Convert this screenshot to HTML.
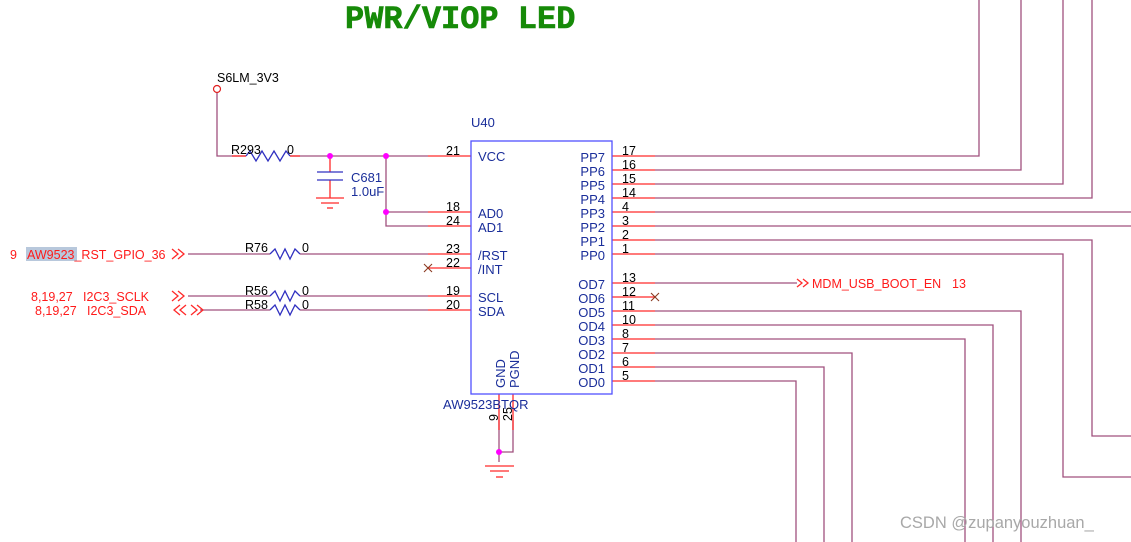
<!DOCTYPE html>
<html><head><meta charset="utf-8"><style>
html,body{margin:0;padding:0;background:#fff;}
svg{display:block;font-family:"Liberation Sans",sans-serif;}
</style></head><body>
<svg width="1131" height="542" viewBox="0 0 1131 542" xmlns="http://www.w3.org/2000/svg">
<text x="345" y="28" font-family="Liberation Mono,monospace" font-weight="bold" font-size="32" fill="#168a08" stroke="#168a08" stroke-width="0.6">PWR/VIOP LED</text>

<g stroke="#a0507e" stroke-width="1.3" fill="none">
<polyline points="217,93 217,156 246,156"/>
<line x1="290" y1="156" x2="428" y2="156"/>
<polyline points="386,156 386,226 428,226"/>
<line x1="386" y1="212" x2="428" y2="212"/>
<line x1="188" y1="254" x2="270" y2="254"/>
<line x1="300" y1="254" x2="428" y2="254"/>
<line x1="188" y1="296" x2="270" y2="296"/>
<line x1="300" y1="296" x2="428" y2="296"/>
<line x1="200" y1="310" x2="270" y2="310"/>
<line x1="300" y1="310" x2="428" y2="310"/>
<polyline points="655,156 979,156 979,0"/>
<polyline points="655,170 1021,170 1021,0"/>
<polyline points="655,184 1063,184 1063,0"/>
<polyline points="655,198 1092,198 1092,0"/>
<line x1="655" y1="212" x2="1131" y2="212"/>
<line x1="655" y1="226" x2="1131" y2="226"/>
<polyline points="655,240 1092,240 1092,436 1131,436"/>
<polyline points="655,254 1063,254 1063,477 1131,477"/>
<line x1="655" y1="283" x2="797" y2="283"/>
<polyline points="655,311 1021,311 1021,542"/>
<polyline points="655,325 993,325 993,542"/>
<polyline points="655,339 965,339 965,542"/>
<polyline points="655,353 852,353 852,542"/>
<polyline points="655,367 824,367 824,542"/>
<polyline points="655,381 796,381 796,542"/>
<polyline points="499,420 499,462"/>
<polyline points="513,420 513,452 499,452"/>
</g>

<g stroke="#ff2a2a" stroke-width="1.3" fill="none">
<line x1="428" y1="156" x2="471" y2="156"/>
<line x1="428" y1="212" x2="471" y2="212"/>
<line x1="428" y1="226" x2="471" y2="226"/>
<line x1="428" y1="254" x2="471" y2="254"/>
<line x1="428" y1="268" x2="471" y2="268"/>
<line x1="428" y1="296" x2="471" y2="296"/>
<line x1="428" y1="310" x2="471" y2="310"/>
<line x1="612" y1="156" x2="655" y2="156"/>
<line x1="612" y1="170" x2="655" y2="170"/>
<line x1="612" y1="184" x2="655" y2="184"/>
<line x1="612" y1="198" x2="655" y2="198"/>
<line x1="612" y1="212" x2="655" y2="212"/>
<line x1="612" y1="226" x2="655" y2="226"/>
<line x1="612" y1="240" x2="655" y2="240"/>
<line x1="612" y1="254" x2="655" y2="254"/>
<line x1="612" y1="283" x2="655" y2="283"/>
<line x1="612" y1="297" x2="655" y2="297"/>
<line x1="612" y1="311" x2="655" y2="311"/>
<line x1="612" y1="325" x2="655" y2="325"/>
<line x1="612" y1="339" x2="655" y2="339"/>
<line x1="612" y1="353" x2="655" y2="353"/>
<line x1="612" y1="367" x2="655" y2="367"/>
<line x1="612" y1="381" x2="655" y2="381"/>
<line x1="499" y1="394" x2="499" y2="430"/>
<line x1="513" y1="394" x2="513" y2="430"/>
<line x1="232" y1="156" x2="246" y2="156"/><line x1="290" y1="156" x2="300" y2="156"/>
<line x1="330" y1="156" x2="330" y2="172"/>
<line x1="330" y1="180" x2="330" y2="198"/>
<line x1="316" y1="198" x2="344" y2="198"/>
<line x1="321" y1="203" x2="339" y2="203"/>
<line x1="327" y1="208" x2="333" y2="208"/>
<line x1="485" y1="466" x2="514" y2="466"/>
<line x1="490" y1="471" x2="509" y2="471"/>
<line x1="496" y1="477" x2="503" y2="477"/>
<polyline points="172,249 178,254 172,259"/><polyline points="178,249 184,254 178,259"/>
<polyline points="172,291 178,296 172,301"/><polyline points="178,291 184,296 178,301"/>
<polyline points="180,305 174,310 180,315"/><polyline points="186,305 180,310 186,315"/>
<polyline points="191,305 197,310 191,315"/><polyline points="197,305 203,310 197,315"/>
<polyline points="797,279 802,283 797,287"/><polyline points="803,279 808,283 803,287"/>
</g>
<circle cx="217" cy="89" r="3.5" fill="none" stroke="#e02020" stroke-width="1.2"/>

<g stroke="#3030c0" stroke-width="1.3" fill="none">
<polyline points="246,156 250,151 256,161 262,151 268,161 274,151 280,161 286,151 290,156"/>
<polyline points="270,254 275,249 280,259 285,249 290,259 295,249 300,254"/>
<polyline points="270,296 275,291 280,301 285,291 290,301 295,291 300,296"/>
<polyline points="270,310 275,305 280,315 285,305 290,315 295,305 300,310"/>
<line x1="317" y1="172" x2="343" y2="172"/>
<line x1="317" y1="180" x2="343" y2="180"/>
</g>

<g stroke="#8a3a20" stroke-width="1.1">
<line x1="424" y1="264" x2="432" y2="272"/><line x1="432" y1="264" x2="424" y2="272"/>
<line x1="651" y1="293" x2="659" y2="301"/><line x1="659" y1="293" x2="651" y2="301"/>
</g>

<g fill="#ff00ff">
<circle cx="330" cy="156" r="3"/><circle cx="386" cy="156" r="3"/><circle cx="386" cy="212" r="3"/><circle cx="499" cy="452" r="3"/>
</g>

<rect x="471" y="141" width="141" height="253" fill="none" stroke="#5050ff" stroke-width="1.3"/>

<g font-size="13" fill="#1a2e9a">
<text x="478" y="161">VCC</text>
<text x="478" y="218">AD0</text>
<text x="478" y="232">AD1</text>
<text x="478" y="260">/RST</text>
<text x="478" y="274">/INT</text>
<text x="478" y="302">SCL</text>
<text x="478" y="316">SDA</text>
<g text-anchor="end">
<text x="605" y="162">PP7</text><text x="605" y="176">PP6</text><text x="605" y="190">PP5</text><text x="605" y="204">PP4</text>
<text x="605" y="218">PP3</text><text x="605" y="232">PP2</text><text x="605" y="246">PP1</text><text x="605" y="260">PP0</text>
<text x="605" y="289">OD7</text><text x="605" y="303">OD6</text><text x="605" y="317">OD5</text><text x="605" y="331">OD4</text>
<text x="605" y="345">OD3</text><text x="605" y="359">OD2</text><text x="605" y="373">OD1</text><text x="605" y="387">OD0</text>
</g>
<text transform="translate(505,388) rotate(-90)">GND</text>
<text transform="translate(519,388) rotate(-90)">PGND</text>
<text x="443" y="409">AW9523BTQR</text>
<text x="351" y="182">C681</text>
<text x="351" y="196">1.0uF</text>
<text x="471" y="127">U40</text>
</g>

<g font-size="12.5" fill="#000">
<text x="446" y="155">21</text><text x="446" y="211">18</text><text x="446" y="225">24</text>
<text x="446" y="253">23</text><text x="446" y="267">22</text><text x="446" y="295">19</text><text x="446" y="309">20</text>
<text x="622" y="155">17</text><text x="622" y="169">16</text><text x="622" y="183">15</text><text x="622" y="197">14</text>
<text x="622" y="211">4</text><text x="622" y="225">3</text><text x="622" y="239">2</text><text x="622" y="253">1</text>
<text x="622" y="282">13</text><text x="622" y="296">12</text><text x="622" y="310">11</text><text x="622" y="324">10</text>
<text x="622" y="338">8</text><text x="622" y="352">7</text><text x="622" y="366">6</text><text x="622" y="380">5</text>
<text transform="translate(498,421) rotate(-90)">9</text>
<text transform="translate(512,421) rotate(-90)">25</text>
<text x="217" y="82">S6LM_3V3</text>
<text x="231" y="154">R293</text><text x="287" y="154">0</text>
<text x="245" y="252">R76</text><text x="302" y="252">0</text>
<text x="245" y="295">R56</text><text x="302" y="295">0</text>
<text x="245" y="309">R58</text><text x="302" y="309">0</text>
</g>

<rect x="26" y="247" width="51" height="14" fill="#b8c8dc"/>
<g font-size="12.5" fill="#ff1a1a">
<text x="10" y="259">9</text>
<text x="27" y="259">AW9523_RST_GPIO_36</text>
<text x="31" y="301">8,19,27</text><text x="83" y="301">I2C3_SCLK</text>
<text x="35" y="315">8,19,27</text><text x="87" y="315">I2C3_SDA</text>
<text x="812" y="288">MDM_USB_BOOT_EN</text><text x="952" y="288">13</text>
</g>

<text x="900" y="528" font-size="16.5" fill="#a8a8a8">CSDN @zupanyouzhuan_</text>
</svg>
</body></html>
